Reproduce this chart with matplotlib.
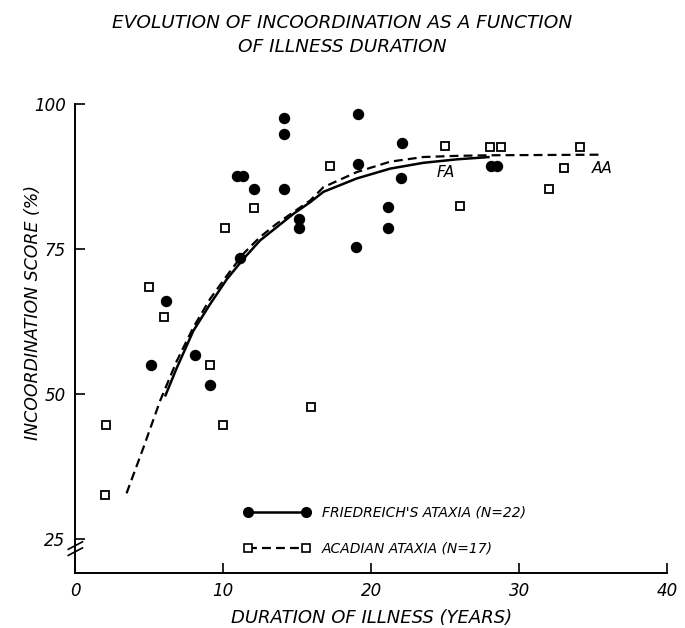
import matplotlib.pyplot as plt
from matplotlib.lines import Line2D

# Friedreich's ataxia (filled circles)
fa_years = [5.1, 6.1, 8.1, 9.1, 10.9, 11.3, 11.1, 12.1, 14.1, 14.1, 14.1,
            15.1, 15.1, 19.1, 19.1, 19.0, 22.1, 22.0, 21.1, 21.1, 28.1, 28.5]
fa_score = [55.0, 66.1, 56.8, 51.6, 87.7, 87.7, 73.4, 85.3, 97.7, 94.8, 85.3,
            80.2, 78.6, 98.4, 89.7, 75.4, 93.4, 87.2, 82.2, 78.6, 89.3, 89.3]

# Acadian ataxia (open squares)
aa_years = [2.0, 2.1, 5.0, 6.0, 9.1, 10.0, 10.1, 12.1, 15.9, 17.2,
            25.0, 26.0, 28.0, 28.8, 32.0, 33.0, 34.1]
aa_score = [32.6, 44.6, 68.5, 63.3, 55.0, 44.6, 78.6, 82.1, 47.8, 89.4,
            92.8, 82.4, 92.6, 92.6, 85.3, 89.0, 92.6]

# fitted curves
fa_curve_x = [6.06, 6.85, 7.97, 9.10, 10.23, 11.35, 12.48, 13.61, 14.74, 15.87,
              16.77, 19.02, 21.28, 23.53, 25.79, 28.0]
fa_curve_y = [49.6, 54.5, 60.9, 65.5, 69.8, 73.3, 76.5, 78.8, 81.1, 83.1,
              84.9, 87.2, 88.9, 89.9, 90.5, 90.9]
aa_curve_x = [3.46, 4.59, 5.72, 6.85, 7.97, 9.10, 10.23, 11.35, 12.48, 13.61,
              14.74, 15.87, 16.77, 19.02, 21.28, 23.53, 25.79, 28.04, 35.4]
aa_curve_y = [32.9, 40.7, 48.8, 55.7, 61.5, 66.4, 70.4, 74.2, 77.1, 79.4,
              81.4, 83.4, 85.7, 88.3, 90.1, 90.9, 91.1, 91.2, 91.3]

x_ticks = [0, 10, 20, 30, 40]
y_ticks = [25, 50, 75, 100]

plt.rcParams['font.family'] = 'DejaVu Sans'
plt.rcParams['font.style'] = 'italic'

fig = plt.figure(figsize=(6.85, 6.28), dpi=100)
ax = fig.add_axes([0.110, 0.088, 0.864, 0.746])

dash = (4, 2.3)
ax.plot(fa_curve_x, fa_curve_y, color='black', lw=1.8, solid_capstyle='butt')
ax.plot(aa_curve_x, aa_curve_y, color='black', lw=1.6, dashes=dash)
ax.plot(fa_years, fa_score, 'o', color='black', ms=7.2, zorder=3)
ax.plot(aa_years, aa_score, 's', mfc='white', mec='black', mew=1.3, ms=6, zorder=3)

ax.text(25.0, 88.3, 'FA', ha='center', va='center', fontsize=11)
ax.text(35.6, 88.9, 'AA', ha='center', va='center', fontsize=11)

ax.set_xlim(0, 40)
ax.set_ylim(19.2, 100)
ax.set_xticks(x_ticks)
ax.set_yticks(y_ticks)
ax.tick_params(direction='in', length=7, width=1.2, pad=7, labelsize=12)
for s in ['top', 'right']:
    ax.spines[s].set_visible(False)
for s in ['left', 'bottom']:
    ax.spines[s].set_linewidth(1.4)

# axis break marks on the y axis
for yb in [0.045, 0.058]:
    ax.plot([-0.012, 0.012], [yb - 0.008, yb + 0.008], color='black', lw=1.2,
            transform=ax.transAxes, clip_on=False)

ax.set_xlabel('DURATION OF ILLNESS (YEARS)', fontsize=13, labelpad=6)
fig.text(0.048, 0.503, 'INCOORDINATION SCORE (%)', rotation=90, fontsize=12.5,
         ha='center', va='center')

fig.text(0.5, 0.978, 'EVOLUTION OF INCOORDINATION AS A FUNCTION\nOF ILLNESS DURATION',
         ha='center', va='top', fontsize=13.3, linespacing=1.45)

handles = [Line2D([], [], color='black', lw=1.8, marker='o', ms=7),
           Line2D([], [], color='black', lw=1.6, dashes=dash, marker='s',
                  mfc='white', mec='black', mew=1.2, ms=6)]
ax.legend(handles, ["FRIEDREICH'S ATAXIA (N=22)", 'ACADIAN ATAXIA (N=17)'],
          numpoints=2, handlelength=4.75, handletextpad=0.86, labelspacing=1.6,
          frameon=False, fontsize=10, loc='upper left', borderpad=0,
          borderaxespad=0, bbox_to_anchor=(0.285, 0.143))

fig.savefig('out.png', dpi=100)
